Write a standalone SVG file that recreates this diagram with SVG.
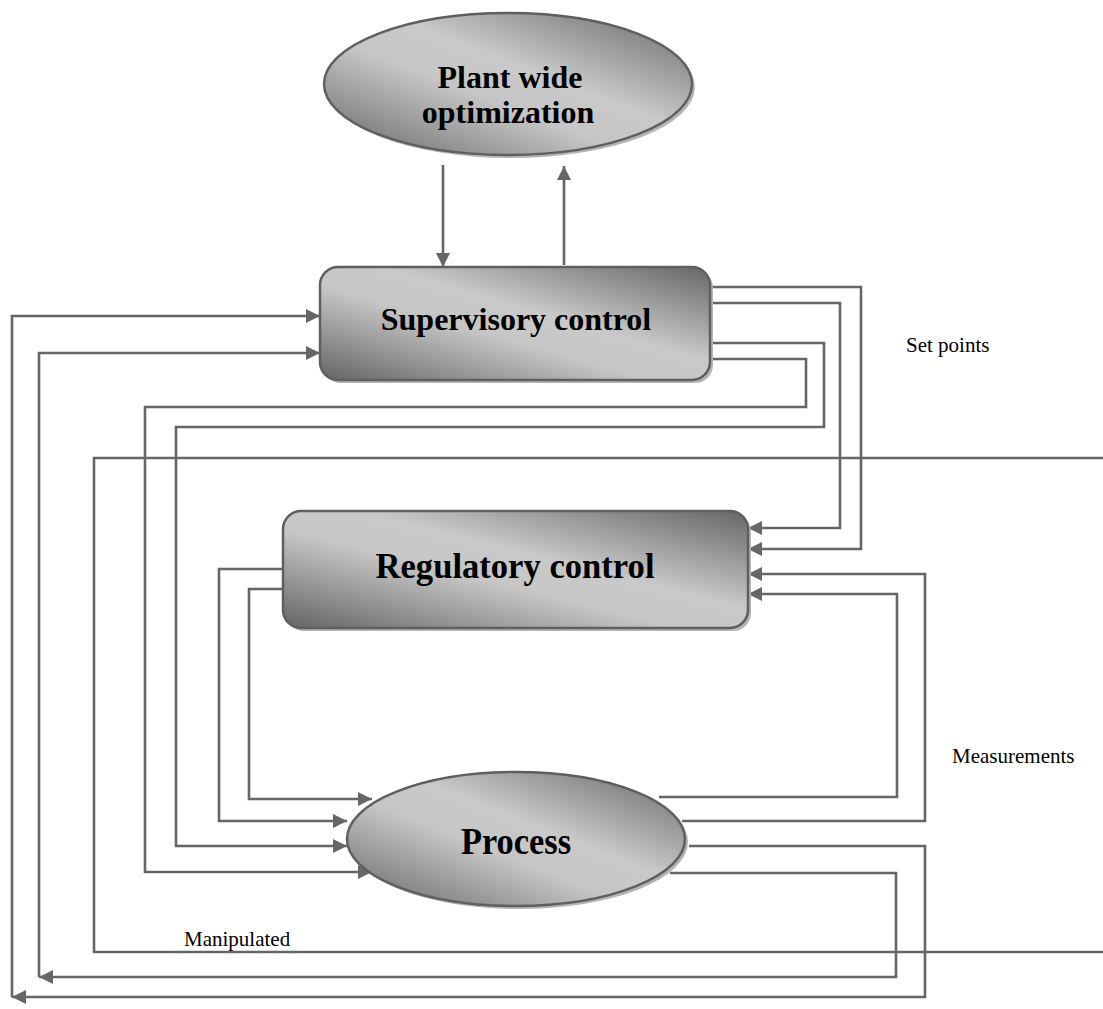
<svg xmlns="http://www.w3.org/2000/svg" width="1103" height="1009" viewBox="0 0 1103 1009">
  <defs>
    <!-- diagonal grey sheen used by every node -->
    <linearGradient id="sheen" x1="0" y1="1" x2="1" y2="0">
      <stop offset="0" stop-color="#646464"/>
      <stop offset="0.42" stop-color="#c6c6c6"/>
      <stop offset="0.58" stop-color="#c9c9c9"/>
      <stop offset="1" stop-color="#666666"/>
    </linearGradient>
    <marker id="arrow" viewBox="0 0 10 10" refX="10" refY="5" markerUnits="userSpaceOnUse" markerWidth="15" markerHeight="14" orient="auto">
      <path d="M0,0 L10,5 L0,10 z" fill="#666666"/>
    </marker>
    <style>
      .wire { fill: none; stroke: #666666; stroke-width: 2.6; }
      .arr { marker-end: url(#arrow); }
      .body { fill: url(#sheen); stroke: #5f5f5f; stroke-width: 2.5; }
      .shade { fill: #b4b4b4; }
      .title { font-family: "Liberation Serif", "Times New Roman", serif; font-weight: bold; fill: #000; text-anchor: middle; }
      .note { font-family: "Liberation Serif", "Times New Roman", serif; font-size: 21px; fill: #000; }
    </style>
  </defs>

  <rect width="1103" height="1009" fill="#ffffff"/>

  <!-- connectors -->
  <g id="connectors">
    <path class="wire arr" d="M443,165 V267"/>
    <path class="wire arr" d="M564,265 V166"/>

    <!-- set points from supervisory to regulatory -->
    <path class="wire arr" d="M708,287 H861 V549 H748"/>
    <path class="wire arr" d="M708,303 H840 V528 H748"/>

    <!-- supervisory outputs down to process -->
    <path class="wire arr" d="M708,343 H824 V427 H176 V846 H347"/>
    <path class="wire arr" d="M708,359 H806 V407 H145 V872 H372"/>

    <!-- regulatory outputs to process -->
    <path class="wire arr" d="M285,569 H219 V821 H347"/>
    <path class="wire arr" d="M285,589 H249 V799 H372"/>

    <!-- measurements back to regulatory -->
    <path class="wire arr" d="M659,797 H897 V594 H748"/>
    <path class="wire arr" d="M682,821 H925 V574 H748"/>

    <!-- measurements back to supervisory -->
    <path class="wire arr" d="M689,846 H925 V997 H12"/>
    <path class="wire arr" d="M12,997 V316 H320"/>
    <path class="wire arr" d="M670,873 H896 V977 H39"/>
    <path class="wire arr" d="M39,977 V353 H320"/>

    <!-- outer frame line -->
    <path class="wire" d="M1103,458 H94 V952 H1103"/>
  </g>

  <g id="plant">
    <ellipse class="shade" cx="511" cy="87" rx="184" ry="71"/>
    <ellipse class="body" cx="508" cy="84" rx="184" ry="71"/>
    <text class="title" x="510" y="88" font-size="32">Plant wide</text>
    <text class="title" x="508" y="123" font-size="32">optimization</text>
  </g>

  <g id="supervisory">
    <rect class="shade" x="323" y="270" width="390" height="113" rx="18"/>
    <rect class="body" x="320" y="267" width="390" height="113" rx="18"/>
    <text class="title" x="516" y="330" font-size="32">Supervisory control</text>
  </g>

  <g id="regulatory">
    <rect class="shade" x="286" y="514" width="465" height="117" rx="18"/>
    <rect class="body" x="283" y="511" width="465" height="117" rx="18"/>
    <text class="title" x="515" y="578" font-size="36" textLength="279" lengthAdjust="spacingAndGlyphs">Regulatory control</text>
  </g>

  <g id="process">
    <ellipse class="shade" cx="519" cy="842" rx="169" ry="67"/>
    <ellipse class="body" cx="516" cy="839" rx="169" ry="67"/>
    <text class="title" x="516" y="854" font-size="37" textLength="110" lengthAdjust="spacingAndGlyphs">Process</text>
  </g>

  <g id="labels">
    <text class="note" x="906" y="352">Set points</text>
    <text class="note" x="952" y="763">Measurements</text>
    <text class="note" x="184" y="946">Manipulated</text>
  </g>
</svg>
